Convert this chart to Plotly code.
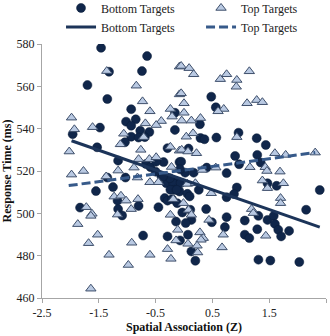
import plotly.graph_objects as go

# Bottom Targets (circles)
bottom_x = [-1.46, -0.65, -1.70, -1.32, -0.74, -1.35, -0.93, -1.02, -0.85, -0.93, -1.48, -1.96,
            -0.93, -0.77, -0.61, -0.80, -0.69, -1.04, -1.53, -0.16, -0.16, -0.29, -1.16, -0.67,
            -0.36, -0.08, -1.03, -1.35, -0.59, -0.40, -1.25, -0.31, -0.15, -1.55, -0.15, -0.50,
            0.48, 0.56, 0.28, 0.96, 0.29, 0.36, 0.57, 1.28, 1.44, 0.08, 0.90, 1.29, -0.05, 0.97,
            1.35, 0.40, 0.75, 0.02, 0.17, -0.19, 0.93, 1.47, 1.63, 2.39,
            -1.83, -1.17, -1.16, -1.09, -0.80, -0.72, -0.45, -0.34, -0.29, -0.21, -0.17, -0.25,
            -0.12, -0.14, -0.29, -0.08,
            2.15, 2.03, 1.52, 1.31, 0.20, 0.88, 0.75, 0.39, 0.49, 0.75, 0.72, 1.07, 1.31, 1.47,
            1.58, 1.60, 1.29, 1.66, 1.85, 1.71, 1.07, 1.15, 0.11, 0.26, 0.13, 0.07, -0.07, 0.13,
            -0.03, 0.06,
            -0.49, -0.07, -0.37, -0.06, -0.24, -0.13, 0.10, 0.03]
bottom_y = [578.2, 574.3, 560.6, 566.9, 567.2, 554.0, 549.2, 543.3, 544.4, 541.4, 540.5, 537.4,
            536.2, 539.0, 538.4, 535.8, 536.0, 533.6, 531.2, 547.5, 539.4, 530.8, 524.9, 523.3,
            524.2, 524.2, 516.9, 516.9, 521.8, 517.7, 512.4, 514.2, 515.3, 510.5, 512.6, 519.7,
            555.1, 550.1, 542.1, 538.1, 535.6, 535.0, 535.8, 535.5, 532.3, 530.6, 527.1, 527.6, 524.4, 523.2,
            524.0, 521.6, 519.0, 519.2, 519.2, 514.2, 512.2, 514.2, 513.0, 511.0,
            502.7, 506.0, 502.0, 499.0, 503.5, 489.5, 502.9, 507.2, 506.0, 506.7, 511.1, 516.6,
            504.8, 496.1, 489.1, 510.3,
            501.7, 477.0, 477.7, 478.1, 477.6, 509.1, 507.6, 502.0, 495.8, 498.2, 493.5, 496.6, 498.8, 496.9,
            498.8, 495.0, 492.5, 492.2, 491.7, 489.1, 489.9, 488.3, 501.7, 511.1, 496.9, 489.9, 487.2, 482.0,
            500.4, 509.2,
            524.4, 520.8, 517.4, 514.2, 511.1, 511.1, 508.0, 495.4]

# Top Targets (triangles)
top_x = [-1.36, -0.84, -0.73, -0.60, -0.08, -0.08, -0.24, -0.21, -0.40, -0.49, -0.68, -1.98,
         -1.93, -1.61, -1.06, -1.12, -0.76, -0.71, -2.02, -0.24, -0.08, -0.80, -0.61, -0.49,
         -1.98, -1.77, -1.37, -1.16, -0.88, -0.82, -0.60, -0.45, -0.22,
         -0.05, 0.09, 0.17, 0.64, 0.75, 0.93, 0.92, 1.15, -0.05, 0.00, 1.11, 1.28, 1.38, 0.70,
         0.60, 0.00, -0.04, 0.13, 0.29, 0.04, 0.16, 0.93, -0.04, 0.07, 0.22, 1.60, 1.79, 2.31,
         0.56, 1.16, 1.43, 1.46, 1.69, 0.32, 1.38, 1.75, 0.06, 0.20,
         -1.23, -1.11, -1.02, -0.81, -1.72, -1.62, -1.64, -1.17, -0.93, -1.87, -1.52, -1.68,
         -0.92, -1.32, -0.98, -1.64, -0.60, -0.24, -0.11, -0.14, -0.29, -0.23,
         0.48, 0.44, 0.67, 0.69, 0.28, 0.34, 0.30, 0.23, 0.24, 0.07, 1.19, 1.22, 1.47, 1.70,
         1.70, 1.44, -0.01, -0.19, 0.08, 0.13]
top_y = [567.2, 560.3, 552.9, 548.2, 569.3, 556.2, 549.3, 545.7, 543.6, 541.7, 542.5, 545.2,
         539.7, 540.7, 537.6, 532.6, 530.0, 536.0, 529.2, 531.4, 529.6, 525.6, 525.6, 526.5,
         518.3, 520.0, 517.4, 520.2, 521.6, 516.9, 514.7, 514.7, 521.9,
         569.6, 568.6, 565.7, 563.4, 565.7, 563.0, 559.8, 567.1, 556.7, 552.0, 552.0, 553.5, 552.5, 549.3,
         548.2, 547.5, 543.8, 543.8, 545.0, 536.2, 537.8, 536.0, 530.0, 529.2, 528.4, 528.4, 527.6, 528.7,
         521.6, 521.8, 521.8, 520.0, 519.7, 520.5, 515.5, 514.2, 513.9, 514.2,
         507.9, 508.3, 506.0, 506.7, 502.9, 499.8, 498.8, 499.4, 502.0, 494.9, 489.9, 485.9,
         486.1, 480.4, 475.6, 464.4, 480.4, 499.3, 492.2, 487.2, 483.1, 478.5,
         509.5, 496.9, 483.9, 489.9, 491.0, 488.3, 487.5, 484.7, 481.5, 485.6, 502.0, 500.1, 511.9, 507.2,
         504.8, 489.4, 504.8, 506.7, 501.6, 499.3]

# Linear trend lines (end points)
bottom_fit_x = [-1.98, 2.39]
bottom_fit_y = [534.3, 493.5]
top_fit_x = [-2.03, 2.31]
top_fit_y = [513.1, 528.7]

x_ticks = [-2.5, -1.5, -0.5, 0.5, 1.5, 2.5]
y_ticks = [460, 480, 500, 520, 540, 560, 580]

serif = "Liberation Serif"

fig = go.Figure()
fig.add_trace(go.Scatter(
    x=bottom_x, y=bottom_y, mode="markers", name="Bottom Targets", legend="legend",
    marker=dict(symbol="circle", size=9, color="#10264a",
                line=dict(color="#0b1c38", width=0.5))))
fig.add_trace(go.Scatter(
    x=top_x, y=top_y, mode="markers", name="Top Targets", legend="legend2",
    marker=dict(symbol="triangle-up", size=9, color="#b9c9e2",
                line=dict(color="#3e4f6b", width=1))))
fig.add_trace(go.Scatter(
    x=bottom_fit_x, y=bottom_fit_y, mode="lines", name="Bottom Targets", legend="legend",
    line=dict(color="#1c3459", width=3)))
fig.add_trace(go.Scatter(
    x=top_fit_x, y=top_fit_y, mode="lines", name="Top Targets", legend="legend2",
    line=dict(color="#375a8a", width=3, dash="9px,4px")))

legend_common = dict(orientation="v", yref="paper", xref="paper",
                     y=1.199, xanchor="left", yanchor="top",
                     font=dict(family=serif, size=12, color="#222222"),
                     bgcolor="rgba(0,0,0,0)", tracegroupgap=0, itemwidth=30)

fig.update_layout(
    width=330, height=336,
    margin=dict(l=42, r=4, t=44, b=38, autoexpand=False),
    paper_bgcolor="white", plot_bgcolor="white",
    font=dict(family=serif, size=12, color="#222222"),
    showlegend=True,
    legend=dict(x=0.067, **legend_common),
    legend2=dict(x=0.56, **legend_common),
    xaxis=dict(range=[-2.5, 2.5], tickvals=x_ticks, ticktext=[str(v) for v in x_ticks],
               showline=True, linecolor="#a6a6a6", linewidth=1,
               ticks="outside", ticklen=4, tickcolor="#a6a6a6",
               showgrid=False, zeroline=False,
               tickfont=dict(family=serif, size=12, color="#222222"),
               title=dict(text="<b>Spatial Association (Z)</b>", standoff=0,
                          font=dict(family=serif, size=12, color="#111111"))),
    yaxis=dict(range=[460, 580], tickvals=y_ticks,
               showline=True, linecolor="#a6a6a6", linewidth=1,
               ticks="outside", ticklen=4, tickcolor="#a6a6a6",
               showgrid=False, zeroline=False,
               tickfont=dict(family=serif, size=12, color="#222222"),
               title=dict(text="<b>Response Time (ms)</b>", standoff=4,
                          font=dict(family=serif, size=12, color="#111111"))),
)

fig.write_html("out.html")
